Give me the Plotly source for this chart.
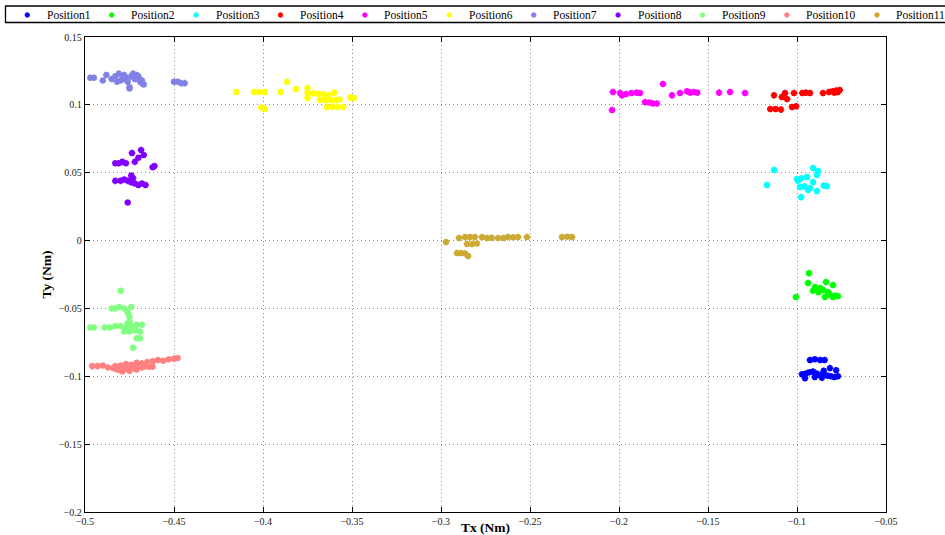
import plotly.graph_objects as go

names = ["Position1", "Position2", "Position3", "Position4", "Position5", "Position6",
         "Position7", "Position8", "Position9", "Position10", "Position11"]
colors = ["#0000FF", "#00FF00", "#00FFFF", "#FF0000", "#FF00FF", "#FFFF00",
          "#8080E6", "#8000FF", "#80FF80", "#FF8080", "#CCAA33"]

p1_x = [-0.0927, -0.090, -0.087, -0.0845, -0.0972, -0.095, -0.093, -0.091, -0.089, -0.087, -0.085,
        -0.083, -0.081, -0.079, -0.077, -0.0815, -0.085, -0.078, -0.0955, -0.090, -0.086]
p1_y = [-0.088, -0.0875, -0.088, -0.088, -0.0985, -0.098, -0.097, -0.0965, -0.098, -0.099, -0.0985,
        -0.0995, -0.100, -0.1005, -0.100, -0.094, -0.096, -0.0955, -0.1015, -0.1005, -0.101]

p2_x = [-0.0933, -0.0938, -0.1006, -0.0837, -0.0798, -0.0899, -0.0888, -0.0870, -0.0854, -0.0826,
        -0.0843, -0.0770, -0.0798, -0.0910, -0.0880, -0.0815, -0.0785]
p2_y = [-0.024, -0.0313, -0.0416, -0.0305, -0.0327, -0.0342, -0.0364, -0.035, -0.0364, -0.0379,
        -0.0416, -0.041, -0.0416, -0.037, -0.038, -0.040, -0.0405]

p3_x = [-0.1129, -0.1169, -0.0910, -0.0882, -0.0888, -0.1000, -0.0944, -0.0910, -0.0983, -0.0960,
        -0.0927, -0.0888, -0.0832, -0.0850, -0.0977, -0.0938, -0.0995, -0.0975]
p3_y = [0.052, 0.041, 0.0535, 0.0513, 0.0483, 0.0454, 0.0468, 0.0432, 0.0395, 0.040,
        0.0387, 0.0365, 0.040, 0.0405, 0.032, 0.0373, 0.044, 0.046]

p4_x = [-0.1129, -0.1067, -0.1085, -0.1056, -0.115, -0.112, -0.109, -0.1017, -0.1028, -0.1005,
        -0.097, -0.095, -0.0927, -0.0854, -0.082, -0.080, -0.078, -0.076, -0.079, -0.077]
p4_y = [0.107, 0.1087, 0.1058, 0.1043, 0.097, 0.097, 0.0965, 0.1087, 0.0984, 0.099,
        0.1087, 0.109, 0.1087, 0.1087, 0.1095, 0.110, 0.1105, 0.111, 0.109, 0.1095]

p5_x = [-0.2034, -0.2039, -0.1994, -0.1983, -0.196, -0.193, -0.190, -0.1882, -0.1854, -0.183, -0.181,
        -0.1787, -0.1753, -0.1702, -0.1657, -0.1618, -0.160, -0.158, -0.156, -0.1438, -0.1376, -0.1292]
p5_y = [0.1095, 0.0962, 0.1087, 0.107, 0.108, 0.1087, 0.109, 0.1087, 0.102, 0.1017, 0.101,
        0.101, 0.1154, 0.107, 0.1087, 0.110, 0.109, 0.1095, 0.109, 0.109, 0.1095, 0.1087]

p6_x = [-0.415, -0.405, -0.402, -0.399, -0.401, -0.399, -0.390, -0.3865, -0.3815, -0.375, -0.375,
        -0.372, -0.369, -0.366, -0.363, -0.375, -0.368, -0.365, -0.362, -0.359, -0.357, -0.364,
        -0.361, -0.358, -0.355, -0.360, -0.351, -0.349]
p6_y = [0.1095, 0.1095, 0.1095, 0.1095, 0.098, 0.097, 0.1095, 0.117, 0.1117, 0.1124, 0.1087,
        0.1085, 0.108, 0.108, 0.107, 0.105, 0.1036, 0.1036, 0.1036, 0.1036, 0.104, 0.0985,
        0.0985, 0.0985, 0.0985, 0.109, 0.1055, 0.105]

p7_x = [-0.497, -0.495, -0.490, -0.488, -0.485, -0.483, -0.481, -0.480, -0.478, -0.477, -0.476,
        -0.475, -0.474, -0.473, -0.472, -0.471, -0.470, -0.469, -0.468, -0.467, -0.482, -0.479,
        -0.475, -0.470, -0.468, -0.450, -0.448, -0.446, -0.444]
p7_y = [0.120, 0.120, 0.118, 0.122, 0.119, 0.121, 0.123, 0.118, 0.122, 0.120, 0.117,
        0.113, 0.121, 0.123, 0.119, 0.122, 0.120, 0.117, 0.118, 0.115, 0.117, 0.119,
        0.112, 0.121, 0.116, 0.117, 0.117, 0.116, 0.116]

p8_x = [-0.4736, -0.4685, -0.467, -0.470, -0.472, -0.483, -0.481, -0.479, -0.477, -0.462, -0.461,
        -0.483, -0.480, -0.478, -0.476, -0.474, -0.472, -0.470, -0.468, -0.466, -0.474, -0.473, -0.476]
p8_y = [0.0645, 0.0667, 0.063, 0.061, 0.058, 0.057, 0.057, 0.058, 0.057, 0.054, 0.055,
        0.044, 0.044, 0.045, 0.044, 0.043, 0.042, 0.041, 0.042, 0.041, 0.048, 0.046, 0.028]

p9_x = [-0.480, -0.485, -0.483, -0.481, -0.478, -0.474, -0.476, -0.475, -0.475, -0.476, -0.497,
        -0.495, -0.489, -0.486, -0.483, -0.480, -0.477, -0.474, -0.471, -0.468, -0.478, -0.475,
        -0.472, -0.469, -0.471, -0.469, -0.473]
p9_y = [-0.037, -0.050, -0.050, -0.049, -0.050, -0.049, -0.053, -0.056, -0.059, -0.061, -0.064,
        -0.064, -0.064, -0.064, -0.063, -0.063, -0.064, -0.063, -0.062, -0.062, -0.067, -0.067,
        -0.066, -0.067, -0.072, -0.072, -0.079]

p10_x = [-0.496, -0.493, -0.490, -0.487, -0.484, -0.482, -0.480, -0.478, -0.476, -0.474, -0.472,
         -0.470, -0.468, -0.466, -0.464, -0.462, -0.483, -0.480, -0.477, -0.474, -0.471, -0.468,
         -0.465, -0.462, -0.459, -0.456, -0.453, -0.450, -0.448, -0.479, -0.475, -0.471]
p10_y = [-0.0925, -0.0925, -0.092, -0.0935, -0.094, -0.095, -0.0955, -0.094, -0.095, -0.0945, -0.094,
         -0.093, -0.0935, -0.0925, -0.093, -0.093, -0.0925, -0.092, -0.091, -0.0915, -0.090, -0.0905,
         -0.0895, -0.089, -0.088, -0.0885, -0.0875, -0.087, -0.0865, -0.0965, -0.096, -0.095]

p11_x = [-0.2972, -0.2899, -0.2865, -0.2838, -0.281, -0.2854, -0.2826, -0.2798, -0.291, -0.2887,
         -0.2865, -0.2848, -0.277, -0.2742, -0.2715, -0.268, -0.265, -0.2624, -0.2595, -0.2567,
         -0.2517, -0.232, -0.229, -0.2264]
p11_y = [-0.0011, 0.0019, 0.0026, 0.0026, 0.0026, -0.0025, -0.0025, -0.0022, -0.0092, -0.0092,
         -0.0095, -0.0114, 0.0026, 0.0019, 0.002, 0.0019, 0.0019, 0.0026, 0.0024, 0.0026,
         0.0026, 0.0026, 0.0028, 0.0026]

xs = [p1_x, p2_x, p3_x, p4_x, p5_x, p6_x, p7_x, p8_x, p9_x, p10_x, p11_x]
ys = [p1_y, p2_y, p3_y, p4_y, p5_y, p6_y, p7_y, p8_y, p9_y, p10_y, p11_y]

x_ticks = [-0.5, -0.45, -0.4, -0.35, -0.3, -0.25, -0.2, -0.15, -0.1, -0.05]
y_ticks = [-0.2, -0.15, -0.1, -0.05, 0, 0.05, 0.1, 0.15]

W, H = 945, 535
L, R, T, B = 85, 886, 37, 512
serif = "Liberation Serif, Times New Roman, serif"

fig = go.Figure()
for n, c, x, y in zip(names, colors, xs, ys):
    fig.add_trace(go.Scatter(
        x=x, y=y, mode="markers", name=n, showlegend=False,
        marker=dict(symbol="asterisk-open", size=5.5, color=c, line=dict(color=c, width=1.9)),
    ))

def px2paper_x(px):
    return (px - L) / (R - L)

def px2paper_y(py):
    return (B - py) / (B - T)

shapes = []
annotations = []
# legend box
shapes.append(dict(type="rect", xref="paper", yref="paper",
                   x0=px2paper_x(5.5), x1=px2paper_x(975), y0=px2paper_y(22.5), y1=px2paper_y(6),
                   line=dict(color="black", width=1.3), fillcolor="white", layer="above"))
mx = 27.3
ly = 15
for n, c in zip(names, colors):
    shapes.append(dict(type="circle", xref="paper", yref="paper",
                       xsizemode="pixel", ysizemode="pixel",
                       xanchor=px2paper_x(mx), yanchor=px2paper_y(ly),
                       x0=-2.3, x1=2.3, y0=-2.3, y1=2.3,
                       fillcolor=c, line=dict(color=c, width=0.8), layer="above"))
    annotations.append(dict(text=n, xref="paper", yref="paper", x=px2paper_x(mx + 17.5),
                            y=px2paper_y(ly), xanchor="left", yanchor="middle", showarrow=False,
                            font=dict(family=serif, size=11.5, color="black")))
    mx += 84.4 + (len(n) - 9) * 5.7

fig.update_layout(
    width=W, height=H,
    margin=dict(l=L, r=W - R, t=T, b=H - B, pad=0, autoexpand=False),
    paper_bgcolor="white", plot_bgcolor="white",
    shapes=shapes, annotations=annotations,
    font=dict(family=serif, size=10, color="black"),
    xaxis=dict(range=[-0.5, -0.05], tickvals=x_ticks, showgrid=True, gridcolor="#909090",
               griddash="1px,3px", gridwidth=1, zeroline=False, showline=True, linecolor="black",
               linewidth=1.3, mirror="ticks", ticks="inside", ticklen=5, tickcolor="black",
               automargin=False, ticklabelstandoff=0,
               tickfont=dict(family=serif, size=10, color="#222222"),
               title=dict(text="<b>Tx (Nm)</b>", font=dict(family=serif, size=13.5), standoff=0)),
    yaxis=dict(range=[-0.2, 0.15], tickvals=y_ticks, showgrid=True, gridcolor="#909090",
               griddash="1px,3px", gridwidth=1, zeroline=False, showline=True, linecolor="black",
               linewidth=1.3, mirror="ticks", ticks="inside", ticklen=5, tickcolor="black",
               automargin=False,
               tickfont=dict(family=serif, size=10, color="#222222"),
               title=dict(text="<b>Ty (Nm)</b>", font=dict(family=serif, size=13.5), standoff=3)),
)

fig.write_html("out.html")
